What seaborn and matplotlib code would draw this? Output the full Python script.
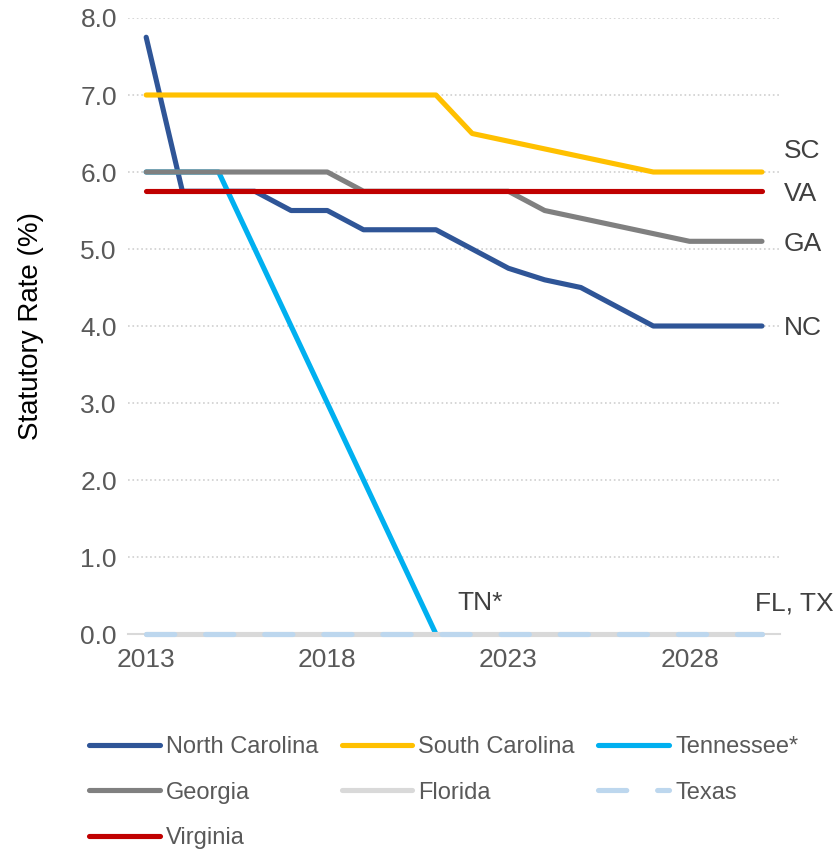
import pandas as pd
import matplotlib
matplotlib.use("Agg")
import matplotlib.pyplot as plt
import seaborn as sns

years = list(range(2013, 2031))
nc = [7.75, 5.75, 5.75, 5.75, 5.5, 5.5, 5.25, 5.25, 5.25, 5.0, 4.75, 4.6, 4.5, 4.25, 4.0, 4.0, 4.0, 4.0]
sc = [7.0, 7.0, 7.0, 7.0, 7.0, 7.0, 7.0, 7.0, 7.0, 6.5, 6.4, 6.3, 6.2, 6.1, 6.0, 6.0, 6.0, 6.0]
tn_years = list(range(2013, 2022))
tn = [6.0, 6.0, 6.0, 5.0, 4.0, 3.0, 2.0, 1.0, 0.0]
ga = [6.0, 6.0, 6.0, 6.0, 6.0, 6.0, 5.75, 5.75, 5.75, 5.75, 5.75, 5.5, 5.4, 5.3, 5.2, 5.1, 5.1, 5.1]
fl = [0.0] * 18
tx = [0.0] * 18
va = [5.75] * 18

states = ["North Carolina", "South Carolina", "Tennessee*", "Georgia", "Florida", "Texas", "Virginia"]
colors = ["#2f5597", "#ffc000", "#00b0f0", "#808080", "#d9d9d9", "#bdd7ee", "#c00000"]

rows = []
for name, xs, ys in [("North Carolina", years, nc), ("South Carolina", years, sc),
                     ("Tennessee*", tn_years, tn), ("Georgia", years, ga),
                     ("Florida", years, fl), ("Texas", years, tx), ("Virginia", years, va)]:
    for x, y in zip(xs, ys):
        rows.append({"Year": x, "Rate": y, "State": name})
df = pd.DataFrame(rows)

sns.set_style("white")
plt.rcParams["font.family"] = ["Liberation Sans", "DejaVu Sans"]

fig = plt.figure(figsize=(8.37, 8.49), dpi=100)
ax = fig.add_axes([0.153, 0.2532, 0.779, 0.7256])

dashes = {s: "" for s in states}
dashes["Texas"] = (5.5, 6.0)
sns.lineplot(data=df, x="Year", y="Rate", hue="State", style="State",
             hue_order=states, style_order=states, palette=colors,
             dashes=dashes, linewidth=3.7, ax=ax, legend=True)
for line in ax.get_lines():
    line.set_solid_capstyle("round")
    line.set_dash_capstyle("round")
    line.set_clip_on(False)
    if line.get_linestyle() not in ("-", "solid"):
        line.set_zorder(3)

ax.set_xlim(2012.5, 2030.5)
ax.set_ylim(0, 8)
ax.set_yticks(range(0, 9))
ax.set_yticklabels([f"{v:.1f}" for v in range(0, 9)])
ax.set_xticks([2013, 2018, 2023, 2028])
ax.tick_params(axis="both", length=0, labelsize=19, colors="#595959")
ax.tick_params(axis="y", pad=8)
ax.tick_params(axis="x", pad=10)
ax.grid(axis="y", linestyle=":", color="#d0d0d0", linewidth=1.2)
ax.set_axisbelow(True)
for s in ["top", "right", "left"]:
    ax.spines[s].set_visible(False)
ax.spines["bottom"].set_color("#d9d9d9")
ax.spines["bottom"].set_linewidth(1.5)
ax.set_xlabel("")
ax.set_ylabel("Statutory Rate (%)", fontsize=20, color="#000000", labelpad=26)

lab_kw = dict(fontsize=19, color="#404040", va="center", ha="left", clip_on=False)
ax.text(2030.6, 6.27, "SC", **lab_kw)
ax.text(2030.6, 5.72, "VA", **lab_kw)
ax.text(2030.6, 5.07, "GA", **lab_kw)
ax.text(2030.6, 3.98, "NC", **lab_kw)
ax.text(2029.82, 0.4, "FL, TX", **lab_kw)
ax.text(2021.6, 0.4, "TN*", **lab_kw)

handles, labels = ax.get_legend_handles_labels()
lookup = dict(zip(labels, handles))
# legend fills column by column, so order for row-wise reading
order = ["North Carolina", "Georgia", "Virginia", "South Carolina", "Florida", "Tennessee*", "Texas"]
ax.get_legend().remove()
fig.legend([lookup[k] for k in order], order, loc="upper left", bbox_to_anchor=(0.092, 0.147),
           ncol=3, frameon=False, fontsize=17, handlelength=3.0,
           handletextpad=0.25, columnspacing=1.0, labelspacing=1.0,
           labelcolor="#595959", borderpad=0)

fig.savefig("out.png", dpi=100)
